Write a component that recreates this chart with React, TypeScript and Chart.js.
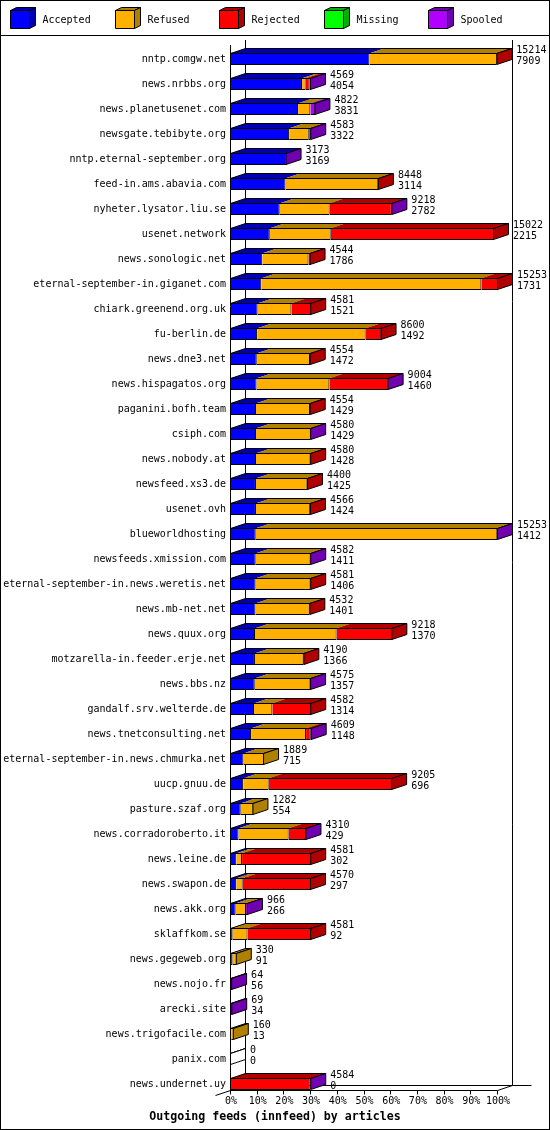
import { useEffect, useRef } from 'react';
import { Chart, registerables } from 'chart.js';

Chart.register(...registerables);

const hosts = [
  'nntp.comgw.net', 'news.nrbbs.org', 'news.planetusenet.com', 'newsgate.tebibyte.org',
  'nntp.eternal-september.org', 'feed-in.ams.abavia.com', 'nyheter.lysator.liu.se', 'usenet.network',
  'news.sonologic.net', 'eternal-september-in.giganet.com', 'chiark.greenend.org.uk', 'fu-berlin.de',
  'news.dne3.net', 'news.hispagatos.org', 'paganini.bofh.team', 'csiph.com', 'news.nobody.at',
  'newsfeed.xs3.de', 'usenet.ovh', 'blueworldhosting', 'newsfeeds.xmission.com',
  'eternal-september-in.news.weretis.net', 'news.mb-net.net', 'news.quux.org',
  'motzarella-in.feeder.erje.net', 'news.bbs.nz', 'gandalf.srv.welterde.de', 'news.tnetconsulting.net',
  'eternal-september-in.news.chmurka.net', 'uucp.gnuu.de', 'pasture.szaf.org', 'news.corradoroberto.it',
  'news.leine.de', 'news.swapon.de', 'news.akk.org', 'sklaffkom.se', 'news.gegeweb.org', 'news.nojo.fr',
  'arecki.site', 'news.trigofacile.com', 'panix.com', 'news.undernet.uy',
];

const offered = [
  15214, 4569, 4822, 4583, 3173, 8448, 9218, 15022, 4544, 15253, 4581, 8600, 4554, 9004, 4554, 4580,
  4580, 4400, 4566, 15253, 4582, 4581, 4532, 9218, 4190, 4575, 4582, 4609, 1889, 9205, 1282, 4310,
  4581, 4570, 966, 4581, 330, 64, 69, 160, 0, 4584,
];

const accepted = [
  7909, 4054, 3831, 3322, 3169, 3114, 2782, 2215, 1786, 1731, 1521, 1492, 1472, 1460, 1429, 1429,
  1428, 1425, 1424, 1412, 1411, 1406, 1401, 1370, 1366, 1357, 1314, 1148, 715, 696, 554, 429,
  302, 297, 266, 92, 91, 56, 34, 13, 0, 0,
];

const refused = [
  7270, 210, 700, 1120, 0, 5300, 2852, 3480, 2640, 12570, 1930, 6198, 3040, 4160, 3080, 3120,
  3110, 2940, 3100, 13800, 3130, 3135, 3090, 4660, 2780, 3178, 1046, 3140, 1174, 1454, 728, 2861,
  330, 370, 590, 850, 239, 0, 0, 147, 0, 0,
];

const rejected = [
  35, 230, 0, 110, 0, 34, 3553, 9327, 118, 952, 1130, 910, 42, 3364, 45, 0,
  42, 35, 42, 0, 0, 40, 41, 3188, 44, 0, 2222, 265, 0, 7055, 0, 1000,
  3949, 3903, 0, 3639, 0, 0, 0, 0, 0, 4550,
];

const missing = [
  0, 0, 0, 0, 0, 0, 0, 0, 0, 0, 0, 0, 0, 0, 0, 0,
  0, 0, 0, 0, 0, 0, 0, 0, 0, 0, 0, 0, 0, 0, 0, 0,
  0, 0, 0, 0, 0, 0, 0, 0, 0, 0,
];

const spooled = [
  0, 75, 291, 31, 4, 0, 31, 0, 0, 0, 0, 0, 0, 20, 0, 31,
  0, 0, 0, 41, 41, 0, 0, 0, 0, 40, 0, 56, 0, 0, 0, 20,
  0, 0, 110, 0, 0, 8, 35, 0, 0, 34,
];

const seriesNames = ['Accepted', 'Refused', 'Rejected', 'Missing', 'Spooled'];
const seriesValues = [accepted, refused, rejected, missing, spooled];
const frontColors = ['#0000ff', '#ffb000', '#ff0000', '#00ff00', '#b000ff'];
const sideColors = ['#0000b0', '#b08000', '#b00000', '#00b000', '#7000b0'];
const tickPercents = [0, 10, 20, 30, 40, 50, 60, 70, 80, 90, 100];
const titleText = 'Outgoing feeds (innfeed) by articles';

const maxArticles = Math.max(...offered);

const DX = 15;
const DY = 5;
const FONT = '10px "DejaVu Sans Mono", "Liberation Mono", monospace';
const TITLE_FONT = 'bold 11.6px "DejaVu Sans Mono", "Liberation Mono", monospace';

const line = (ctx: CanvasRenderingContext2D, x1: number, y1: number, x2: number, y2: number) => {
  ctx.beginPath();
  ctx.moveTo(x1, y1);
  ctx.lineTo(x2, y2);
  ctx.stroke();
};

const poly = (ctx: CanvasRenderingContext2D, pts: number[][], fill: string | null, stroke: boolean) => {
  ctx.beginPath();
  ctx.moveTo(pts[0][0], pts[0][1]);
  for (let i = 1; i < pts.length; i++) ctx.lineTo(pts[i][0], pts[i][1]);
  ctx.closePath();
  if (fill) {
    ctx.fillStyle = fill;
    ctx.fill();
  }
  if (stroke) {
    ctx.strokeStyle = '#000';
    ctx.lineWidth = 1;
    ctx.stroke();
  }
};

const frame3d = {
  id: 'frame3d',
  beforeDraw(chart: any) {
    const { ctx, width, height } = chart;
    ctx.save();
    ctx.fillStyle = '#fff';
    ctx.fillRect(0, 0, width, height);
    ctx.restore();
  },
  beforeDatasetsDraw(chart: any) {
    const { ctx, scales } = chart;
    const xs = scales.x;
    const ys = scales.y;
    const fx0 = Math.round(xs.getPixelForValue(0)) - 0.5;
    const fx1 = Math.round(xs.getPixelForValue(100)) - 0.5;
    const frontTop = Math.round(ys.getPixelForValue(0)) - 14;
    const frontBot = Math.round(ys.getPixelForValue(hosts.length - 1)) + 6.5;
    ctx.save();
    ctx.strokeStyle = '#000';
    ctx.lineWidth = 1;
    // back wall verticals
    line(ctx, fx0 + DX, frontTop - DY, fx0 + DX, frontBot - DY);
    line(ctx, fx1 + DX, frontTop - DY, fx1 + DX, frontBot - DY);
    // floor
    line(ctx, fx0 + DX, frontBot - DY, fx1 + DX + 19, frontBot - DY);
    line(ctx, fx1, frontBot, fx1 + DX, frontBot - DY);
    line(ctx, fx0 - DX, frontBot + DY, fx0 + DX, frontBot - DY);
    line(ctx, fx0, frontBot, fx1, frontBot);
    // ticks
    for (const p of tickPercents) {
      const tx = Math.round(xs.getPixelForValue(p)) - 0.5;
      line(ctx, tx, frontBot, tx, frontBot + 4);
    }
    ctx.restore();
  },
  afterDatasetsDraw(chart: any) {
    const { ctx, scales } = chart;
    const xs = scales.x;
    const ys = scales.y;
    const metas = seriesValues.map((_, d) => chart.getDatasetMeta(d));
    ctx.save();
    ctx.lineWidth = 1;
    ctx.strokeStyle = '#000';
    for (let i = 0; i < hosts.length; i++) {
      const el0 = metas[0].data[i].getProps(['x', 'base', 'y', 'height'], true);
      const top = Math.round(el0.y - el0.height / 2) + 0.5;
      const bot = top + el0.height - 1;
      const start = Math.round(el0.base) - 0.5;
      let end = start;
      let last = -1;
      // top faces
      for (let d = 0; d < seriesValues.length; d++) {
        if (seriesValues[d][i] <= 0) continue;
        const el = metas[d].data[i].getProps(['x', 'base'], true);
        const b = el.base - 0.5;
        const e = el.x - 0.5;
        poly(ctx, [[b, top], [e, top], [e + DX, top - DY], [b + DX, top - DY]], sideColors[d], false);
        end = e;
        last = d;
      }
      poly(ctx, [[start, top], [end, top], [end + DX, top - DY], [start + DX, top - DY]], null, true);
      // side face
      poly(
        ctx,
        [[end, top], [end + DX, top - DY], [end + DX, bot - DY], [end, bot]],
        last >= 0 ? sideColors[last] : '#fff',
        true,
      );
      // numbers
      const total = seriesValues.reduce((s, arr) => s + arr[i], 0);
      const px = xs.getPixelForValue((total / maxArticles) * 100);
      const yc = ys.getPixelForValue(i);
      ctx.fillStyle = '#000';
      ctx.font = FONT;
      ctx.textAlign = 'left';
      ctx.textBaseline = 'middle';
      ctx.fillText(String(offered[i]), px + DX + 4, yc - 9);
      ctx.fillText(String(accepted[i]), px + DX + 4, yc + 2);
    }
    // front vertical axis
    const fx0 = Math.round(xs.getPixelForValue(0)) - 0.5;
    const frontTop = Math.round(ys.getPixelForValue(0)) - 14;
    const frontBot = Math.round(ys.getPixelForValue(hosts.length - 1)) + 6.5;
    line(ctx, fx0, frontTop, fx0, frontBot);
    ctx.restore();
  },
  afterDraw(chart: any) {
    const { ctx, width, height } = chart;
    ctx.save();
    ctx.lineWidth = 1;
    ctx.strokeStyle = '#000';
    // legend
    for (let k = 0; k < seriesNames.length; k++) {
      const X = 10 + Math.round(k * 104.5) + 0.5;
      const Y = 10.5;
      const w = 19;
      const h = 18;
      poly(ctx, [[X, Y], [X + w, Y], [X + w + 6, Y - 3], [X + 6, Y - 3]], sideColors[k], true);
      poly(ctx, [[X + w, Y], [X + w + 6, Y - 3], [X + w + 6, Y + h - 3], [X + w, Y + h]], sideColors[k], true);
      poly(ctx, [[X, Y], [X + w, Y], [X + w, Y + h], [X, Y + h]], frontColors[k], true);
      ctx.fillStyle = '#000';
      ctx.font = FONT;
      ctx.textAlign = 'left';
      ctx.textBaseline = 'middle';
      ctx.fillText(seriesNames[k], X + 32, 20);
    }
    line(ctx, 0, 35.5, width, 35.5);
    // title
    ctx.fillStyle = '#000';
    ctx.font = TITLE_FONT;
    ctx.textAlign = 'center';
    ctx.textBaseline = 'middle';
    ctx.fillText(titleText, width / 2, 1117);
    // outer border
    ctx.strokeRect(0.5, 0.5, width - 1, height - 1);
    ctx.restore();
  },
};

export default function App() {
  const ref = useRef<HTMLCanvasElement>(null);

  useEffect(() => {
    document.body.style.margin = '0';
    const canvas = ref.current;
    if (!canvas) return;
    const datasets = seriesValues.map((vals, d) => ({
      label: seriesNames[d],
      data: vals.map((v) => (v / maxArticles) * 100),
      backgroundColor: frontColors[d],
      borderColor: '#000',
      borderWidth: 1,
      borderSkipped: 'start' as const,
      inflateAmount: 0,
      barThickness: 12,
      clip: false as const,
      stack: 'feeds',
    }));
    const chart = new Chart(canvas, {
      type: 'bar',
      data: { labels: hosts, datasets },
      options: {
        indexAxis: 'y',
        responsive: false,
        animation: false,
        devicePixelRatio: 1,
        events: [],
        layout: { padding: { top: 59, right: 52, bottom: 20, left: 0 } },
        plugins: {
          legend: { display: false },
          tooltip: { enabled: false },
          title: { display: false },
        },
        scales: {
          x: {
            type: 'linear',
            stacked: true,
            min: 0,
            max: 100,
            grid: { display: false, drawTicks: false },
            border: { display: false },
            ticks: {
              stepSize: 10,
              padding: 11,
              color: '#000',
              font: { family: '"DejaVu Sans Mono", "Liberation Mono", monospace', size: 10 },
              callback: (v: any) => `${v}%`,
              maxRotation: 0,
              autoSkip: false,
            },
            afterFit: (scale: any) => {
              scale.height = 26;
            },
          },
          y: {
            type: 'category',
            stacked: true,
            offset: false,
            grid: { display: false, drawTicks: false },
            border: { display: false },
            ticks: {
              autoSkip: false,
              padding: 5,
              color: '#000',
              font: { family: '"DejaVu Sans Mono", "Liberation Mono", monospace', size: 10 },
            },
            afterFit: (scale: any) => {
              scale.width = 231;
            },
          },
        },
      },
      plugins: [frame3d],
    });
    return () => chart.destroy();
  }, []);

  return <canvas ref={ref} width={550} height={1130} style={{ display: 'block', width: 550, height: 1130 }} />;
}
